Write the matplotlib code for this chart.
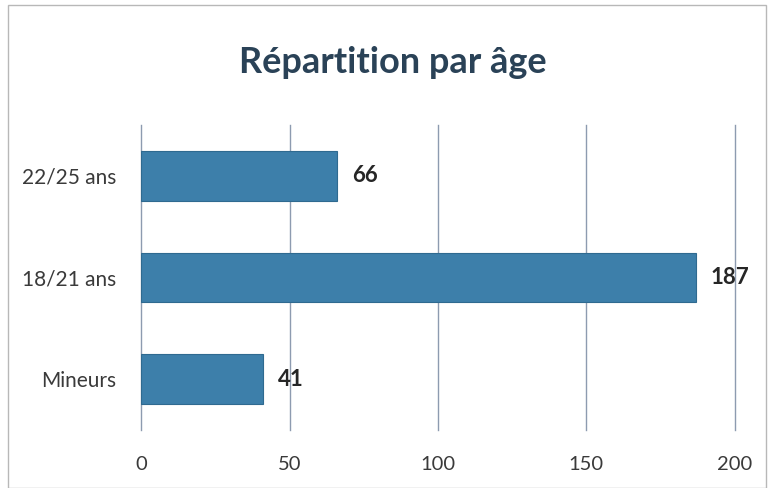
import matplotlib.pyplot as plt
from matplotlib.patches import Rectangle

# data
categories = ['Mineurs', '18/21 ans', '22/25 ans']
values = [41, 187, 66]
xticks = [0, 50, 100, 150, 200]

plt.rcParams['font.family'] = ['Lato', 'DejaVu Sans']

fig = plt.figure(figsize=(7.71, 4.88), dpi=100)
fig.patches.append(Rectangle((0.011, 0.0), 0.982, 0.99, transform=fig.transFigure,
                             fill=False, edgecolor='#b8b8b8', linewidth=1))
ax = fig.add_axes([0.183, 0.119, 0.77, 0.625])

bars = ax.barh(categories, values, height=0.49, color='#3d7faa', edgecolor='#2f6a90', linewidth=0.8, zorder=3)
for i, v in enumerate(values):
    ax.text(v + 5, i, str(v), va='center', ha='left', fontsize=16, fontweight='bold', color='#262626', zorder=4)

ax.set_xlim(0, 200)
ax.set_ylim(-0.5, 2.5)
ax.set_xticks(xticks)
ax.grid(axis='x', color='#8d9bb0', linewidth=1, zorder=0)
for line in ax.get_xgridlines():
    line.set_clip_on(False)
for s in ax.spines.values():
    s.set_visible(False)
ax.tick_params(axis='both', length=0, colors='#3a3a3a')
ax.tick_params(axis='x', pad=19, labelsize=14.5)
ax.tick_params(axis='y', pad=18, labelsize=15)

fig.text(0.51, 0.871, 'Répartition par âge', ha='center', va='center', fontsize=26,
         fontweight='bold', color='#2a4257')

plt.savefig('out.png', dpi=100)
